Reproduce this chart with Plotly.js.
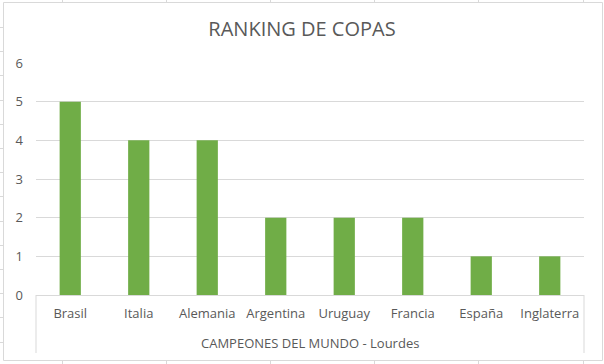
<!DOCTYPE html>
<html>
<head>
<meta charset="utf-8">
<script src="https://cdn.plot.ly/plotly-3.0.1.min.js"></script>
<style>html,body{margin:0;padding:0;background:#fff;}#chart{width:604px;height:364px;}</style>
</head>
<body>
<div id="chart"></div>
<script>
var categories = ["Brasil", "Italia", "Alemania", "Argentina", "Uruguay", "Francia", "España", "Inglaterra"];
var copas = [5, 4, 4, 2, 2, 2, 1, 1];
var groupLabel = "CAMPEONES DEL MUNDO - Lourdes";
var chartTitle = "RANKING DE COPAS";

var W = 604, H = 364, L = 36, R = 20, T = 63, B = 69;
var pw = W - L - R, ph = H - T - B;
function px(x) { return (x - L) / pw; }
function py(y) { return (H - B - y) / ph; }

var gridCol = "#D9D9D9";
var shapes = [];
// outer chart border
shapes.push({type: "rect", xref: "paper", yref: "paper", x0: px(3.5), x1: px(602.5), y0: py(360.5), y1: py(2.5),
  line: {color: gridCol, width: 1}, fillcolor: "rgba(0,0,0,0)", layer: "below"});
// category box dividers
shapes.push({type: "line", xref: "paper", yref: "paper", x0: 0, x1: 0, y0: 0, y1: py(353), line: {color: gridCol, width: 1}});
shapes.push({type: "line", xref: "paper", yref: "paper", x0: 1, x1: 1, y0: 0, y1: py(353), line: {color: gridCol, width: 1}});
// spreadsheet cell lines peeking outside the chart
var colX = [62, 166, 270, 374, 478, 583];
colX.forEach(function (x) {
  shapes.push({type: "line", xref: "paper", yref: "paper", x0: px(x + 0.5), x1: px(x + 0.5), y0: py(0), y1: py(2), line: {color: gridCol, width: 1}});
  shapes.push({type: "line", xref: "paper", yref: "paper", x0: px(x + 0.5), x1: px(x + 0.5), y0: py(361), y1: py(364), line: {color: gridCol, width: 1}});
});
for (var y = 27; y < 362; y += 24.2) {
  shapes.push({type: "line", xref: "paper", yref: "paper", x0: px(0), x1: px(3), y0: py(Math.round(y) + 0.5), y1: py(Math.round(y) + 0.5), line: {color: gridCol, width: 1}});
}

var font = "Open Sans, Noto Sans, sans-serif";
var data = [{
  type: "bar",
  x: categories,
  y: copas,
  marker: {color: "#70AD47"},
  hoverinfo: "x+y"
}];
var layout = {
  width: W, height: H,
  margin: {l: L, r: R, t: T, b: B, pad: 0},
  paper_bgcolor: "#ffffff",
  plot_bgcolor: "#ffffff",
  showlegend: false,
  bargap: 0.69,
  font: {family: font, color: "#595959", size: 13},
  title: {text: chartTitle, font: {family: font, size: 20, color: "#595959"}, x: 0.5, xanchor: "center", y: 1 - 29 / H, yanchor: "middle"},
  xaxis: {
    type: "category",
    showgrid: false, zeroline: false,
    showline: true, linecolor: gridCol, linewidth: 1,
    ticks: "", ticklabelstandoff: 6,
    tickfont: {family: font, size: 13, color: "#595959"}
  },
  yaxis: {
    range: [0, 6], dtick: 1, tick0: 0,
    showgrid: true, gridcolor: gridCol, gridwidth: 1,
    zeroline: false, showline: false,
    ticks: "", ticklabelstandoff: 12,
    tickfont: {family: font, size: 13, color: "#595959"}
  },
  shapes: shapes,
  annotations: [{
    text: groupLabel, xref: "paper", yref: "paper", x: 0.5, y: py(343),
    xanchor: "center", yanchor: "middle", showarrow: false,
    font: {family: font, size: 13, color: "#595959"}
  }]
};
Plotly.newPlot("chart", data, layout, {displayModeBar: false, staticPlot: true});
</script>
</body>
</html>
